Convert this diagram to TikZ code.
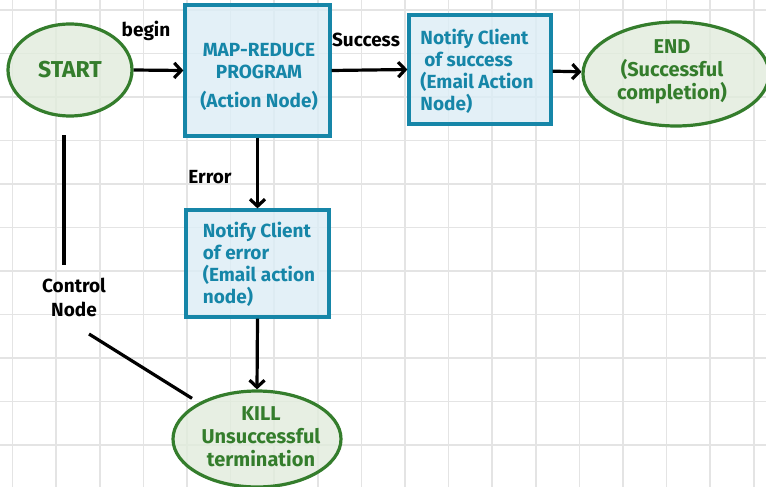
\documentclass[tikz,border=0pt]{standalone}
\usepackage{fontspec}
\setmainfont{Fira Sans}
\usetikzlibrary{shapes.geometric,arrows.meta}
\definecolor{gridgray}{RGB}{228,228,228}
\definecolor{okgreen}{RGB}{52,125,44}
\definecolor{okfill}{RGB}{225,236,220}
\definecolor{actblue}{RGB}{22,134,168}
\definecolor{actfill}{RGB}{220,237,246}
\tikzset{
  x=1pt, y=-1pt,
  flownode/.style={line width=3.2pt, fill opacity=0.8, text opacity=1,
    inner sep=0pt},
  statenode/.style={flownode, ellipse, draw=okgreen, fill=okfill, text=okgreen,
    align=center, font=\fontsize{20}{23}\selectfont\bfseries},
  actionnode/.style={flownode, rectangle, draw=actblue, fill=actfill, text=actblue,
    font=\fontsize{19}{22}\selectfont\bfseries},
  labelonly/.style={draw=none, fill=none},
  flow/.style={line width=3.2pt, -{Straight Barb[length=7pt,width=15pt,line width=3.2pt]}},
  plainline/.style={line width=3.2pt},
  edgetext/.style={font=\fontsize{19}{24}\selectfont\bfseries, align=center}
}
\begin{document}
\begin{tikzpicture}
\useasboundingbox (0,0) rectangle (766,487);
\fill[white] (0,0) rectangle (766,487);
% squared paper
\foreach \gx in {0,...,17} \draw[gridgray, line width=1.5pt] (12.6+43.6*\gx,0) -- (12.6+43.6*\gx,487);
\foreach \gy in {0,...,11} \draw[gridgray, line width=1.5pt] (0,10.2+43.5*\gy) -- (766,10.2+43.5*\gy);

% workflow nodes (shape) with their text set separately
\node[statenode, minimum width=124pt, minimum height=92pt, font=\fontsize{23}{25}\selectfont\bfseries]
  (start) at (70,70) {START};
\node[actionnode, minimum width=145pt, minimum height=131pt] (mr) at (257.5,70.5) {};
\node[actionnode, labelonly, align=center] (mrtext) at (259,77)
  {MAP-REDUCE\\PROGRAM\\[7pt](Action Node)};
\node[actionnode, minimum width=142pt, minimum height=109pt] (succ) at (480,69.5) {};
\node[actionnode, labelonly, align=left] (succtext) at (477,71)
  {Notify Client\\\hspace*{0.2em}of success\\(Email Action\\Node)};
\node[statenode, minimum width=186pt, minimum height=104pt] (endn) at (676,74) {};
\node[statenode, labelonly] (endtext) at (672,72)
  {END\\(Successful\\completion)};
\node[actionnode, minimum width=143pt, minimum height=107pt] (err) at (257.5,263.5) {};
\node[actionnode, labelonly, align=left] (errtext) at (259,264)
  {Notify Client\\of error\\(Email action\\node)};
\node[statenode, minimum width=168pt, minimum height=96pt] (kill) at (257,439) {};
\node[statenode, labelonly] (killtext) at (261,437)
  {KILL\\Unsuccessful\\termination};

% edge labels
\node[edgetext] (lbegin) at (146,31) {begin};
\node[edgetext] (lsucc) at (366,40) {Success};
\node[edgetext] (lerr) at (210,177) {Error};
\node[edgetext] (ctl) at (74,297) {Control\\Node};

% transitions
\draw[flow] (start.east) -- (mr.west);
\draw[flow] (mr.east) -- (succ.west);
\draw[flow] (succ) -- (endn);
\draw[flow] (mr.south) -- (err.north);
\draw[flow] (err.south) -- (kill.north);

% control path from START to KILL
\coordinate (c1) at (64,135);
\coordinate (c2) at (64,265);
\coordinate (c3) at (89,334);
\draw[plainline] (c1) -- (c2);
\draw[plainline, shorten >=8pt] (c3) -- (kill);
\end{tikzpicture}
\end{document}
